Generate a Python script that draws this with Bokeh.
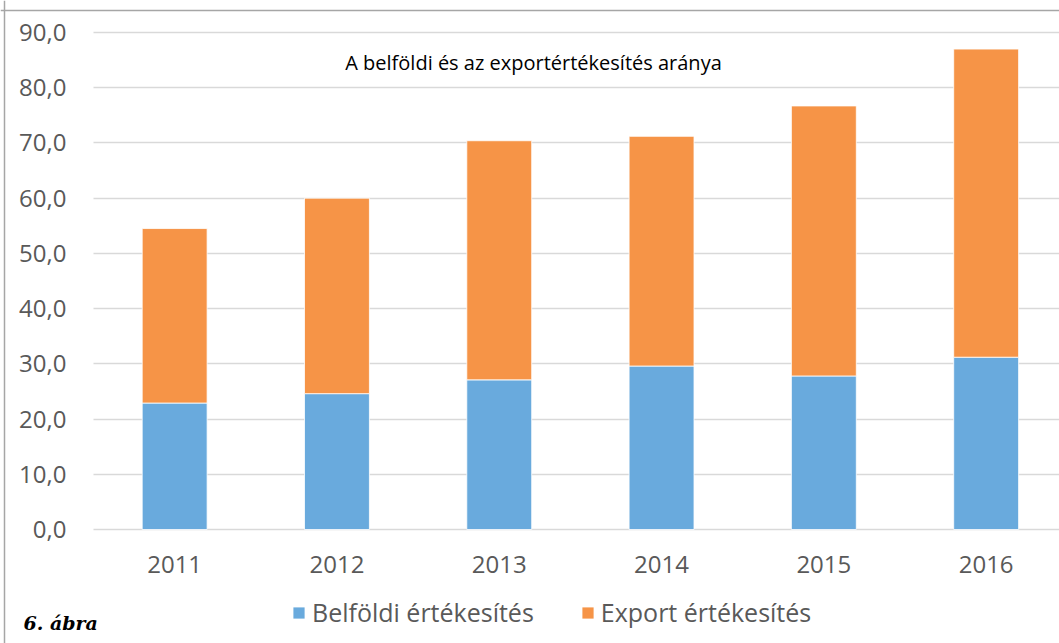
from bokeh.plotting import figure
from bokeh.models import (ColumnDataSource, Range1d, FixedTicker, Legend, LegendItem, Label, Span)
from bokeh.embed import file_html
from bokeh.resources import INLINE

# ---- data ----
years = ["2011", "2012", "2013", "2014", "2015", "2016"]
belfoldi = [22.9, 24.6, 27.1, 29.6, 27.8, 31.2]
export = [31.6, 35.4, 43.3, 41.6, 48.9, 55.8]
y_ticks = [0, 10, 20, 30, 40, 50, 60, 70, 80, 90]
y_tick_labels = ["0,0", "10,0", "20,0", "30,0", "40,0", "50,0", "60,0", "70,0", "80,0", "90,0"]
series_names = ["Belföldi értékesítés", "Export értékesítés"]
chart_title = "A belföldi és az exportértékesítés aránya"
figure_label = "6. ábra"

# ---- style / layout (pixels) ----
BLUE = "#69aadd"
ORANGE = "#f69447"
GRID = "#d9d9d9"
BORDER = "#a6a6a6"
TXT = "#595959"
FONT = "Open Sans"

W, H = 1059, 643
PLOT_LEFT = 93      # pixel x of the first category's left edge
PLOT_TOP = 32       # pixel y of the top tick
PLOT_BOTTOM = 529   # pixel y of zero
CAT_PX = 162.3      # pixels per category

y_top = max(y_ticks)
px_per_unit = (PLOT_BOTTOM - PLOT_TOP) / y_top
x_start = -PLOT_LEFT / CAT_PX
x_end = (W - PLOT_LEFT) / CAT_PX
y_start = -(H - PLOT_BOTTOM) / px_per_unit
y_end = y_top + PLOT_TOP / px_per_unit

xs = [i + 0.5 for i in range(len(years))]
source = ColumnDataSource(dict(x=xs, belfoldi=belfoldi, export=export))

p = figure(width=W, height=H, output_backend="svg", toolbar_location=None,
           x_range=Range1d(x_start, x_end), y_range=Range1d(y_start, y_end),
           min_border_left=0, min_border_right=0, min_border_top=0, min_border_bottom=0)

# chart border (top and left only; the rest is cut off in the reference)
p.add_layout(Span(location=y_top + (PLOT_TOP - 10) / px_per_unit, dimension="width",
                  line_color=BORDER, line_width=1.5))
p.add_layout(Span(location=x_start + 4 / CAT_PX, dimension="height",
                  line_color=BORDER, line_width=1.5))

renderers = p.vbar_stack(["belfoldi", "export"], x="x", width=0.4, source=source,
                         color=[BLUE, ORANGE], line_color="white", line_width=0.8)

p.outline_line_color = None
p.xgrid.grid_line_color = None
p.ygrid.grid_line_color = GRID
p.ygrid.grid_line_width = 1.3
p.ygrid.cross_bounds = (0, x_end)

p.yaxis.ticker = FixedTicker(ticks=y_ticks)
p.yaxis.major_label_overrides = {t: l for t, l in zip(y_ticks, y_tick_labels)}
p.yaxis.fixed_location = 0
p.xaxis.ticker = FixedTicker(ticks=xs)
p.xaxis.major_label_overrides = {x: y for x, y in zip(xs, years)}
p.xaxis.fixed_location = 0

for ax in (p.xaxis, p.yaxis):
    ax.axis_line_color = None
    ax.major_tick_line_color = None
    ax.minor_tick_line_color = None
    ax.major_tick_out = 0
    ax.major_tick_in = 0
    ax.major_label_text_font = FONT
    ax.major_label_text_font_size = "24px"
    ax.major_label_text_color = TXT
p.yaxis.major_label_standoff = 27
p.xaxis.major_label_standoff = 26

items = [LegendItem(label=n, renderers=[r]) for n, r in zip(series_names, renderers)]
legend = Legend(items=items, orientation="horizontal", location=(291, 14),
                glyph_width=15, glyph_height=15, label_standoff=6, spacing=46,
                padding=0, margin=0, border_line_color=None,
                background_fill_alpha=0,
                label_text_font=FONT, label_text_font_size="25px",
                label_text_color=TXT)
p.add_layout(legend, "center")

p.add_layout(Label(x=0, y=y_top, x_offset=440, y_offset=-30, text=chart_title,
                   text_font=FONT, text_font_size="20px", text_color="#000000",
                   text_align="center", text_baseline="middle"))
p.add_layout(Label(x=0, y=0, x_offset=-70, y_offset=-93, text=figure_label,
                   text_font="DejaVu Serif", text_font_size="19px",
                   text_font_style="bold italic", text_color="#000000",
                   text_align="left", text_baseline="alphabetic"))

open("out.html", "w").write(file_html(p, INLINE))
